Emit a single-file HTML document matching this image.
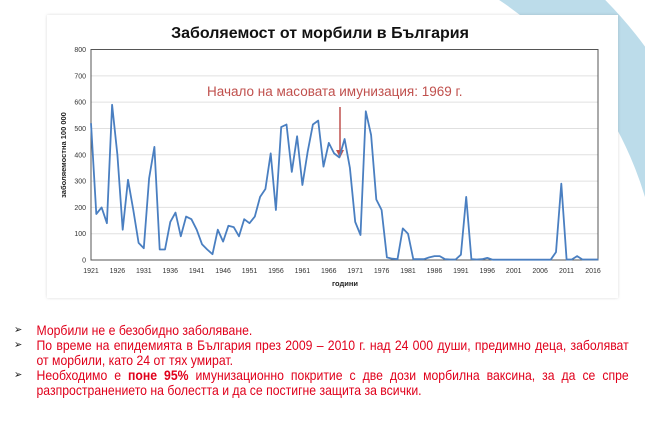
<!DOCTYPE html>
<html><head><meta charset="utf-8"><style>
html,body{margin:0;width:645px;height:441px;overflow:hidden}
body{background:#fff;position:relative;font-family:"Liberation Sans",sans-serif}
#bg{position:absolute;left:0;top:0}
.card{position:absolute;left:47px;top:15px;width:571px;height:283px;background:#fff;box-shadow:0 0 3px rgba(0,0,0,0.15)}
.txtw{position:absolute;left:0;top:0;width:645px;height:441px;overflow:hidden}
.txt{position:absolute;left:14px;top:323px;width:683px;color:#e0001b;font-size:13.6px;line-height:15px;transform:scaleX(0.9);transform-origin:0 0}
.txt div{position:relative;padding-left:25px;text-align:justify}
.txt div::before{content:"➢";position:absolute;left:0;color:#222;font-size:11px}
</style></head><body>
<svg id="bg" width="645" height="441"><defs><clipPath id="cp"><rect x="480" y="0" width="165" height="260"/></clipPath></defs><circle cx="300" cy="300" r="394" fill="none" stroke="#bcdcea" stroke-width="68" clip-path="url(#cp)"/></svg>
<div class="card"></div>
<svg style="position:absolute;left:0;top:0" width="645" height="300" id="ch">
<text x="320" y="38" text-anchor="middle" font-size="16" font-weight="bold" fill="#111" font-family="Liberation Sans">Заболяемост от морбили в България</text>
<g id="grid"></g>
<rect x="91" y="49.5" width="507" height="210.5" fill="none" stroke="#555" stroke-width="1"/>
<text x="207" y="96" font-size="13.5" fill="#c0504d" font-family="Liberation Sans">Начало на масовата имунизация: 1969 г.</text>
<line x1="340" y1="107" x2="340" y2="152" stroke="#c0504d" stroke-width="1.5"/>
<polygon points="336,150 344,150 340,158" fill="#c0504d"/>
<polyline id="ln" fill="none" stroke="#4a7fc1" stroke-width="1.8" stroke-linejoin="round"/>
<text x="345" y="286" text-anchor="middle" font-size="7.5" font-weight="bold" fill="#222">години</text>
<text transform="translate(66,155) rotate(-90)" text-anchor="middle" font-size="7.5" font-weight="bold" fill="#222">заболяемостна 100 000</text>
</svg>
<div class="txtw"><div class="txt">
<div>Морбили не е безобидно заболяване.</div>
<div>По време на епидемията в България през 2009 – 2010 г. над 24 000 души, предимно деца, заболяват от морбили, като 24 от тях умират.</div>
<div>Необходимо е <b>поне 95%</b> имунизационно покритие с две дози морбилна ваксина, за да се спре разпространението на болестта и да се постигне защита за всички.</div>
</div></div>
<script>
var d=[520,175,200,140,590,400,115,305,190,65,45,310,430,40,40,145,180,90,165,155,115,60,40,22,115,70,130,125,90,155,140,165,240,270,405,190,505,515,335,470,285,410,515,530,355,445,405,390,460,350,145,95,565,475,230,190,10,5,3,120,100,3,3,3,10,15,15,3,2,2,20,240,3,2,3,8,1,1,1,1,1,1,1,1,1,1,1,1,30,290,2,2,15,2,2,2,2];
var ns="http://www.w3.org/2000/svg",X=function(y){return 91+(y-1921)*5.284},Y=function(v){return 260-v*0.2631};
var p=[];for(var i=0;i<d.length;i++)p.push(X(1921+i).toFixed(1)+","+Y(d[i]).toFixed(1));
document.getElementById("ln").setAttribute("points",p.join(" "));
var g=document.getElementById("grid");
for(var v=0;v<=800;v+=100){var l=document.createElementNS(ns,"line");l.setAttribute("x1",91);l.setAttribute("x2",598);l.setAttribute("y1",Y(v));l.setAttribute("y2",Y(v));l.setAttribute("stroke","#e0e0e0");g.appendChild(l);
var t=document.createElementNS(ns,"text");t.setAttribute("x",86);t.setAttribute("y",Y(v)+2.5);t.setAttribute("text-anchor","end");t.setAttribute("font-size","7");t.setAttribute("fill","#333");t.textContent=v;g.appendChild(t);}
for(var y=1921;y<=2016;y+=5){var t=document.createElementNS(ns,"text");t.setAttribute("x",X(y));t.setAttribute("y",273);t.setAttribute("text-anchor","middle");t.setAttribute("font-size","7");t.setAttribute("fill","#333");t.textContent=y;g.appendChild(t);}
</script>
</body></html>
